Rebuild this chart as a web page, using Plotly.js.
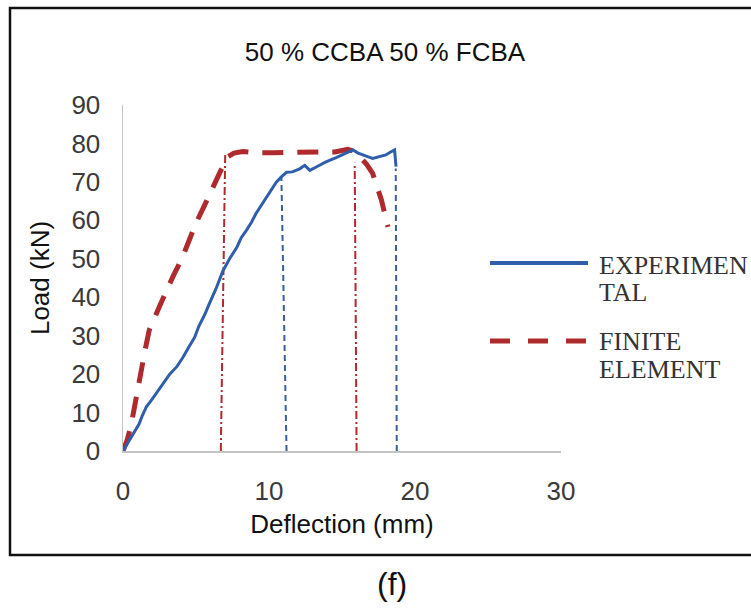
<!DOCTYPE html>
<html>
<head>
<meta charset="utf-8">
<script src="https://cdn.plot.ly/plotly-3.0.1.min.js"></script>
<style>
  html, body { margin: 0; padding: 0; background: #ffffff; }
  #chart { width: 751px; height: 612px; }
</style>
</head>
<body>
<div id="chart"></div>
<script>
// Load–deflection response, 50 % CCBA 50 % FCBA beam
const expDeflection = [0, 0.3, 0.7, 1.1, 1.3, 1.6, 2.0, 2.4, 2.8, 3.2, 3.7, 4.1, 4.5, 4.9, 5.2, 5.6,
  5.9, 6.4, 6.85, 7.3, 7.8, 8.1, 8.45, 8.8, 9.1, 9.5, 9.8, 10.2, 10.5, 10.9, 11.2, 11.6, 12.1,
  12.45, 12.8, 13.3, 13.9, 14.6, 15.3, 15.75, 16.1, 16.4, 16.8, 17.1, 17.5, 18.0, 18.3, 18.6, 18.7];
const expLoad = [0, 2, 4.5, 7, 9, 11.5, 13.5, 15.6, 17.8, 20, 22, 24.3, 27, 29.5, 32.5, 35.5,
  38.2, 42.5, 46.9, 50, 53, 55.5, 57.4, 59.5, 61.7, 64, 66, 68.3, 69.9, 71.5, 72.5, 72.6, 73.4,
  74.3, 73.0, 74.0, 75.2, 76.3, 77.4, 78.3, 77.5, 77.0, 76.5, 76.1, 76.5, 77.0, 77.7, 78.3, 74];

const feDeflection = [0, 0.3, 0.57, 0.85, 1.15, 1.5, 1.8, 2.4, 3.0, 3.5, 4.0, 4.5, 5.0, 5.6, 6.15,
  6.7, 7.2, 7.6, 8.2, 9.0, 10.3, 11.8, 13.25, 14.5, 15.4, 15.8, 16.2, 16.7, 17.1, 17.4, 17.7, 18.15];
const feLoad = [0, 3, 7, 13, 20, 26, 31.5, 37, 41.9, 46, 49.7, 54.5, 59.3, 64, 68.8,
  73, 76.6, 77.5, 77.9, 77.6, 77.6, 77.6, 77.6, 77.8, 78.5, 78, 76.6, 74.5, 72.2, 68.5, 65.3, 58.3];

// Reference drop lines (yield and ultimate points)
const expDropBase = [11.2, 18.75];
const expDropTop = [10.85, 18.68];
const expDropLoad = [71, 73.5];
const feDropBase = [6.7, 16.0];
const feDropTop = [7.0, 15.87];
const feDropLoad = [77, 75];

const xTicks = [0, 10, 20, 30];
const yTicks = [0, 10, 20, 30, 40, 50, 60, 70, 80, 90];

const seriesNames = ['EXPERIMEN', 'TAL', 'FINITE', 'ELEMENT'];

const blue = '#2F5EAA';
const red = '#AE2A2C';

function dropTrace(base, top, load, color, dash) {
  const xs = [], ys = [];
  for (let i = 0; i < base.length; i++) {
    xs.push(base[i], top[i], null);
    ys.push(0, load[i], null);
  }
  return { x: xs, y: ys, mode: 'lines', showlegend: false, hoverinfo: 'skip',
           line: { color: color, width: 2, dash: dash } };
}

const traces = [
  dropTrace(feDropBase, feDropTop, feDropLoad, red, '8px,3px,2px,3px'),
  dropTrace(expDropBase, expDropTop, expDropLoad, '#3B5E9C', '6px,4px'),
  { x: feDeflection, y: feLoad, mode: 'lines', name: 'FINITE ELEMENT', showlegend: false,
    line: { color: red, width: 5, dash: '21px,14px' } },
  { x: expDeflection, y: expLoad, mode: 'lines', name: 'EXPERIMENTAL', showlegend: false,
    line: { color: blue, width: 3 } }
];

// plot area in pixels: x 123..561, y 105..451
const L = 123, R = 561, T = 105, B = 451;
const px = v => (v - L) / (R - L);
const py = v => (B - v) / (B - T);

const sans = 'Liberation Sans, Arial, sans-serif';
const serif = 'Liberation Serif, Times New Roman, serif';

const layout = {
  width: 751, height: 612,
  margin: { l: L, r: 751 - R, t: T, b: 612 - B },
  paper_bgcolor: '#ffffff', plot_bgcolor: '#ffffff',
  showlegend: false,
  title: { text: '50 % CCBA 50 % FCBA', x: 385 / 751, xanchor: 'center',
           y: 1 - 52 / 612, yanchor: 'middle',
           font: { family: sans, size: 26, color: '#111111' } },
  xaxis: {
    range: [0, 30], tickvals: xTicks, ticktext: xTicks.map(String),
    showgrid: false, zeroline: false, showline: true, linecolor: '#c4c4c4', linewidth: 1.5,
    ticks: 'outside', ticklen: 16, tickcolor: 'rgba(0,0,0,0)',
    tickfont: { family: sans, size: 26, color: '#3a3a3a' },
    title: { text: 'Deflection (mm)', standoff: 10, font: { family: sans, size: 26, color: '#111111' } }
  },
  yaxis: {
    range: [0, 90], tickvals: yTicks, ticktext: yTicks.map(String),
    showgrid: false, zeroline: false, showline: true, linecolor: '#c4c4c4', linewidth: 1.5,
    ticks: 'outside', ticklen: 16, tickcolor: 'rgba(0,0,0,0)',
    tickfont: { family: sans, size: 26, color: '#3a3a3a' },
    title: { text: 'Load (kN)', standoff: 14, font: { family: sans, size: 26, color: '#111111' } }
  },
  shapes: [
    // frame around the chart
    { type: 'rect', xref: 'paper', yref: 'paper', x0: px(10), x1: px(770), y0: py(555), y1: py(8),
      line: { color: '#111111', width: 2.5 }, fillcolor: 'rgba(0,0,0,0)', layer: 'below' },
    // legend keys
    { type: 'line', xref: 'paper', yref: 'paper', x0: px(490), x1: px(588), y0: py(263), y1: py(263),
      line: { color: blue, width: 4 } },
    { type: 'line', xref: 'paper', yref: 'paper', x0: px(490), x1: px(590), y0: py(341), y1: py(341),
      line: { color: red, width: 5, dash: '20px,18px' } }
  ],
  annotations: [
    { text: seriesNames[0], xref: 'paper', yref: 'paper', x: px(597), y: py(265), xanchor: 'left', yanchor: 'middle',
      showarrow: false, font: { family: serif, size: 26, color: '#333333' } },
    { text: seriesNames[1], xref: 'paper', yref: 'paper', x: px(597), y: py(292), xanchor: 'left', yanchor: 'middle',
      showarrow: false, font: { family: serif, size: 26, color: '#333333' } },
    { text: seriesNames[2], xref: 'paper', yref: 'paper', x: px(597), y: py(341), xanchor: 'left', yanchor: 'middle',
      showarrow: false, font: { family: serif, size: 26, color: '#333333' } },
    { text: seriesNames[3], xref: 'paper', yref: 'paper', x: px(597), y: py(369), xanchor: 'left', yanchor: 'middle',
      showarrow: false, font: { family: serif, size: 26, color: '#333333' } },
    { text: '(f)', xref: 'paper', yref: 'paper', x: px(392), y: py(584), xanchor: 'center', yanchor: 'middle',
      showarrow: false, font: { family: sans, size: 32, color: '#111111' } }
  ]
};

Plotly.newPlot('chart', traces, layout, { staticPlot: true, displayModeBar: false });
</script>
</body>
</html>
